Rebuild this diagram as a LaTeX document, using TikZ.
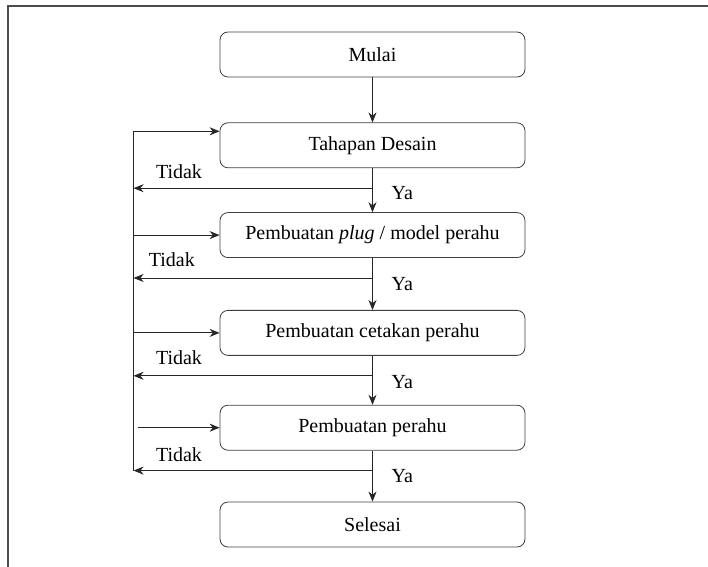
\documentclass[tikz,border=0pt]{standalone}
\usepackage{fontspec}
\setmainfont{Liberation Serif}
\usetikzlibrary{positioning,arrows.meta}

\begin{document}
\begin{tikzpicture}[>={Stealth[length=5pt,width=4pt]}, node distance=24pt,
  box/.style={rectangle, rounded corners=4pt, draw=black!75, thin,
    align=center, minimum width=152.5pt, minimum height=22.5pt, font=\normalsize},
  lab/.style={font=\normalsize},
  wire/.style={draw=black!85, thin}]
  \useasboundingbox (0,0) rectangle (354pt,-283.5pt);
  % frame
  \draw[black!70, line width=1pt] (4pt,-283.5pt) |- (354pt,-3pt);

  \node[box] (mulai) at (186.25pt,-27.25pt) {Mulai};
  \node[box, below=22.5pt of mulai] (desain) {Tahapan Desain};
  \node[box, below=22pt of desain] (plug) {Pembuatan \textit{plug} / model perahu};
  \node[box, below=26pt of plug] (cetak) {Pembuatan cetakan perahu};
  \node[box, below=24.5pt of cetak] (perahu) {Pembuatan perahu};
  \node[box, below=25.5pt of perahu] (selesai) {Selesai};

  % branch points and the return rail
  \coordinate[below=10pt of desain] (b1);
  \coordinate[below=10pt of plug] (b2);
  \coordinate[below=10pt of cetak] (b3);
  \coordinate[below=10pt of perahu] (b4);
  \coordinate (in1) at ([yshift=7pt]desain.west);
  \coordinate[left=43pt of in1] (rail);

  \draw[wire, ->] (mulai) -- (desain);
  \draw[wire, ->] (desain) -- node[lab, right=6pt, pos=0.57]{Ya} (plug);
  \draw[wire, ->] (plug) -- node[lab, right=6pt, pos=0.5]{Ya} (cetak);
  \draw[wire, ->] (cetak) -- node[lab, right=6pt, pos=0.53]{Ya} (perahu);
  \draw[wire, ->] (perahu) -- node[lab, right=6pt, pos=0.5]{Ya} (selesai);

  \draw[wire, ->] (b1) -- node[lab, above, pos=0.81, yshift=1pt]{Tidak} (b1 -| rail);
  \draw[wire, ->] (b2) -- node[lab, above, pos=0.84, yshift=2pt]{Tidak} (b2 -| rail);
  \draw[wire, ->] (b3) -- node[lab, above, pos=0.81, yshift=2pt]{Tidak} (b3 -| rail);
  \draw[wire, ->] (b4) -- node[lab, above, pos=0.81, yshift=1pt]{Tidak} (b4 -| rail);

  \draw[wire] (rail) -- (b4 -| rail);
  \draw[wire, ->] (rail) -- (in1);
  \draw[wire, ->] (plug.west -| rail) -- (plug.west);
  \draw[wire, ->] (cetak.west -| rail) -- (cetak.west);
  \draw[wire, ->] ([xshift=2pt]perahu.west -| rail) -- (perahu.west);
\end{tikzpicture}
\end{document}
